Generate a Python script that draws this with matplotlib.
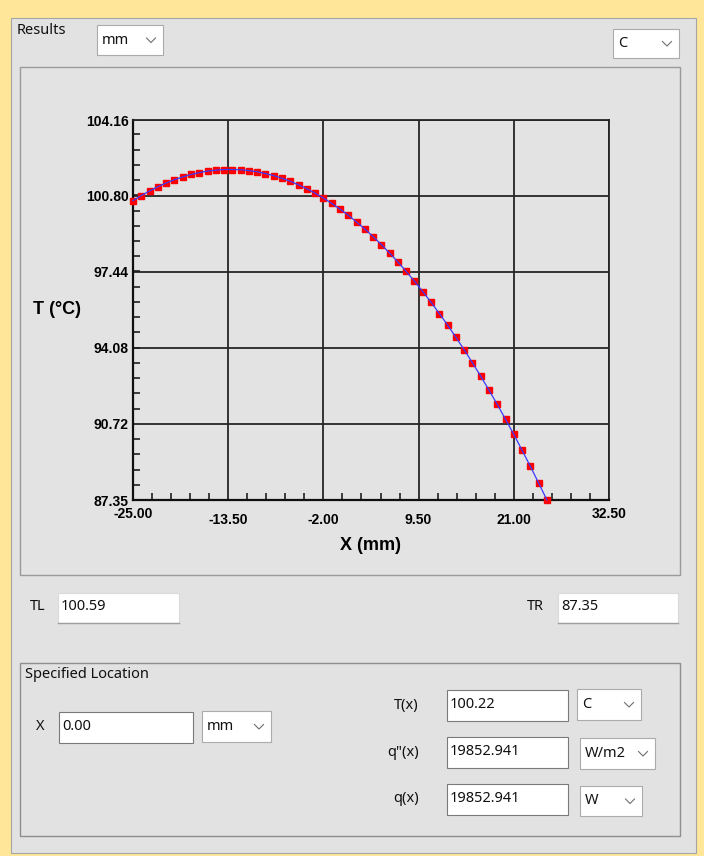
import matplotlib
matplotlib.use('Agg')
import matplotlib.pyplot as plt
from matplotlib.patches import Rectangle
from matplotlib.ticker import AutoMinorLocator

# position along the wall (mm) and temperature (C)
x_mm = [-25, -24, -23, -22, -21, -20, -19, -18, -17, -16, -15, -14, -13,
        -12, -11, -10, -9, -8, -7, -6, -5, -4, -3, -2, -1, 0,
        1, 2, 3, 4, 5, 6, 7, 8, 9, 10, 11, 12, 13, 14, 15, 16, 17,
        18, 19, 20, 21, 22, 23, 24, 25]
temp_c = [100.59, 100.82, 101.02, 101.21, 101.37, 101.52, 101.64, 101.75,
          101.83, 101.90, 101.94, 101.97, 101.97, 101.96, 101.92, 101.87,
          101.79, 101.70, 101.58, 101.45, 101.29, 101.12, 100.92, 100.71,
          100.47, 100.22, 99.95, 99.65, 99.34, 99.00, 98.65, 98.27, 97.88,
          97.46, 97.03, 96.57, 96.10, 95.60, 95.09, 94.55, 94.00, 93.42,
          92.83, 92.21, 91.58, 90.92, 90.25, 89.55, 88.84, 88.10, 87.35]

x_ticks = [-25.0, -13.5, -2.0, 9.5, 21.0, 32.5]
y_ticks = [87.35, 90.72, 94.08, 97.44, 100.80, 104.16]

# values in the form fields
t_left = '100.59'
t_right = '87.35'
x_loc = '0.00'
t_at_x = '100.22'
flux_at_x = '19852.941'
q_at_x = '19852.941'

W, H = 704, 856
UI_FONT = 'Noto Sans'
TICK_FONT = 'Liberation Sans'

fig = plt.figure(figsize=(W / 100, H / 100), dpi=100)
fig.patch.set_facecolor('#FFE699')

# window area drawn in pixel coordinates
ui = fig.add_axes([0, 0, 1, 1])
ui.set_xlim(0, W)
ui.set_ylim(H, 0)
ui.axis('off')


def rect(x0, y0, x1, y1, fc, ec, lw=0.8):
    ui.add_patch(Rectangle((x0, y0), x1 - x0, y1 - y0, facecolor=fc,
                           edgecolor=ec, linewidth=lw))


def label(x, y, text, ha='left'):
    ui.text(x, y, text, ha=ha, va='center', fontsize=10.5,
            family=UI_FONT, color='#111111')


def dropdown(x0, y0, x1, y1, text):
    rect(x0, y0, x1, y1, 'white', '#ABABAB')
    label(x0 + 5, (y0 + y1) / 2, text)
    cx, cy = x1 - 12, (y0 + y1) / 2
    ui.plot([cx - 4.5, cx, cx + 4.5], [cy - 2, cy + 2.5, cy - 2],
            color='#6E6E6E', lw=0.8)


def field(x0, y0, x1, y1, text, ec='#7A7A7A'):
    rect(x0, y0, x1, y1, 'white', ec)
    label(x0 + 3, (y0 + y1) / 2 - 1, text)


# main panel and chart frame
rect(11, 18, 696, 853, '#E2E2E2', '#A5A5A5')
label(17, 30, 'Results')
dropdown(97, 25, 163, 55, 'mm')
dropdown(613, 29, 679, 58, 'C')
rect(20, 67, 680, 575, '#E3E3E3', '#9A9A9A', lw=1.0)

# end temperatures
label(30, 606, 'TL')
field(58, 593, 179, 623, t_left, ec='#DADADA')
ui.plot([58, 179], [623, 623], color='#9E9E9E', lw=1.0)
label(527, 607, 'TR')
field(558, 593, 678, 623, t_right, ec='#DADADA')
ui.plot([558, 678], [623, 623], color='#9E9E9E', lw=1.0)

# specified location group
rect(20, 663, 680, 836, '#E2E2E2', '#8E8E8E', lw=1.0)
label(25, 674, 'Specified Location')
label(36, 726, 'X')
field(59, 712, 193, 743, x_loc)
dropdown(202, 711, 271, 742, 'mm')
label(419, 705, 'T(x)', ha='right')
field(447, 690, 568, 721, t_at_x)
dropdown(577, 689, 641, 720, 'C')
label(419, 752, 'q"(x)', ha='right')
field(447, 737, 568, 768, flux_at_x)
dropdown(580, 738, 655, 769, 'W/m2')
label(419, 799, 'q(x)', ha='right')
field(447, 784, 568, 815, q_at_x)
dropdown(580, 786, 642, 816, 'W')

# temperature profile
ax = fig.add_axes([133 / W, 1 - 500 / H, 476 / W, 380 / H])
ax.set_facecolor('#E3E3E3')
ax.plot(x_mm, temp_c, ls='none', marker='s', ms=4.6, mfc='#FF0000',
        mec='#FF0000', zorder=3, clip_on=False)
ax.plot(x_mm, temp_c, color='#3A3AFF', lw=0.9, zorder=4, clip_on=False)

ax.set_xlim(x_ticks[0], x_ticks[-1])
ax.set_ylim(y_ticks[0], y_ticks[-1])
ax.set_xticks(x_ticks)
ax.set_xticklabels([f'{v:.2f}' for v in x_ticks])
ax.set_yticks(y_ticks)
ax.set_yticklabels([f'{v:.2f}' for v in y_ticks])
ax.xaxis.set_minor_locator(AutoMinorLocator(5))
ax.yaxis.set_minor_locator(AutoMinorLocator(5))
ax.grid(True, which='major', color='#252525', lw=1.3)
ax.set_axisbelow(True)

ax.tick_params(which='both', direction='in', top=False, right=False,
               color='#202020')
ax.tick_params(which='major', length=0, pad=3)
ax.tick_params(which='minor', length=5, width=1.2)
for lab in ax.get_xticklabels() + ax.get_yticklabels():
    lab.set_fontsize(10)
    lab.set_fontweight('bold')
    lab.set_family(TICK_FONT)
for i, tick in enumerate(ax.xaxis.get_major_ticks()):
    tick.set_pad(5 if i in (0, len(x_ticks) - 1) else 9.5)

for side in ['left', 'bottom']:
    ax.spines[side].set_linewidth(1.6)
    ax.spines[side].set_color('#101010')
for side in ['top', 'right']:
    ax.spines[side].set_linewidth(1.3)
    ax.spines[side].set_color('#252525')

ax.set_xlabel('X (mm)', fontsize=13, fontweight='bold', family=TICK_FONT)
ax.xaxis.set_label_coords((371 - 133) / 476, -45 / 380)
ax.xaxis.label.set_va('center')
ax.set_ylabel('T (°C)', fontsize=13, fontweight='bold', family=TICK_FONT,
              rotation=0)
ax.yaxis.set_label_coords((57 - 133) / 476, 190 / 380)
ax.yaxis.label.set_va('center')
ax.yaxis.label.set_ha('center')

plt.savefig('out.png', dpi=100, facecolor=fig.get_facecolor())
